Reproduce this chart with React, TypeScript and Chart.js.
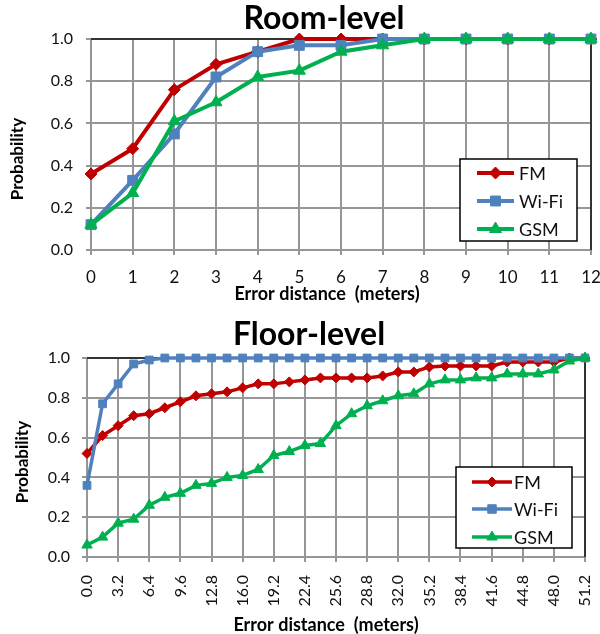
import React, { useEffect, useRef } from 'react';
import { Chart, registerables } from 'chart.js';

Chart.register(...registerables);

// ---------- data ----------
const seriesNames = ['FM', 'Wi-Fi', 'GSM'];
const seriesColors = ['#C00000', '#4F81BD', '#00B050'];
const seriesMarkers = ['rectRot', 'rect', 'triangle'];

const roomTitle = 'Room-level';
const floorTitle = 'Floor-level';
const xAxisTitle = 'Error distance  (meters)';
const yAxisTitle = 'Probability';

const roomX = [0, 1, 2, 3, 4, 5, 6, 7, 8, 9, 10, 11, 12];
const roomTickLabels = ['0', '1', '2', '3', '4', '5', '6', '7', '8', '9', '10', '11', '12'];
const roomFM = [0.36, 0.48, 0.76, 0.88, 0.94, 1.0, 1.0, 1.0, 1.0, 1.0, 1.0, 1.0, 1.0];
const roomWiFi = [0.12, 0.33, 0.55, 0.82, 0.94, 0.97, 0.97, 1.0, 1.0, 1.0, 1.0, 1.0, 1.0];
const roomGSM = [0.12, 0.27, 0.61, 0.70, 0.82, 0.85, 0.94, 0.97, 1.0, 1.0, 1.0, 1.0, 1.0];

const floorX = [
  0, 1.6, 3.2, 4.8, 6.4, 8.0, 9.6, 11.2, 12.8, 14.4, 16.0, 17.6, 19.2, 20.8, 22.4, 24.0, 25.6,
  27.2, 28.8, 30.4, 32.0, 33.6, 35.2, 36.8, 38.4, 40.0, 41.6, 43.2, 44.8, 46.4, 48.0, 49.6, 51.2,
];
const floorTicks = [0, 3.2, 6.4, 9.6, 12.8, 16.0, 19.2, 22.4, 25.6, 28.8, 32.0, 35.2, 38.4, 41.6, 44.8, 48.0, 51.2];
const floorTickLabels = ['0.0', '3.2', '6.4', '9.6', '12.8', '16.0', '19.2', '22.4', '25.6', '28.8', '32.0', '35.2', '38.4', '41.6', '44.8', '48.0', '51.2'];
const floorFM = [
  0.52, 0.61, 0.66, 0.71, 0.72, 0.75, 0.78, 0.81, 0.82, 0.83, 0.85, 0.87, 0.87, 0.88, 0.89, 0.90, 0.90,
  0.90, 0.90, 0.91, 0.93, 0.93, 0.955, 0.96, 0.96, 0.96, 0.96, 0.98, 0.98, 0.98, 0.98, 1.0, 1.0,
];
const floorWiFi = [
  0.36, 0.77, 0.87, 0.97, 0.99, 1.0, 1.0, 1.0, 1.0, 1.0, 1.0, 1.0, 1.0, 1.0, 1.0, 1.0, 1.0,
  1.0, 1.0, 1.0, 1.0, 1.0, 1.0, 1.0, 1.0, 1.0, 1.0, 1.0, 1.0, 1.0, 1.0, 1.0, 1.0,
];
const floorGSM = [
  0.06, 0.10, 0.17, 0.19, 0.26, 0.30, 0.32, 0.36, 0.37, 0.40, 0.41, 0.44, 0.51, 0.53, 0.56, 0.57, 0.66,
  0.72, 0.76, 0.785, 0.81, 0.82, 0.87, 0.89, 0.89, 0.90, 0.90, 0.92, 0.92, 0.92, 0.94, 0.985, 1.0,
];

const yTicks = [0, 0.2, 0.4, 0.6, 0.8, 1.0];
const yTickLabels = ['0.0', '0.2', '0.4', '0.6', '0.8', '1.0'];

// ---------- styling ----------
const FONT = 'Lato, "Open Sans", sans-serif';
const GRID = '#969696';
const FRAME = '#333333';

type Spec = {
  width: number;
  height: number;
  top: number;
  xValues: number[];
  series: number[][];
  xTicks: number[];
  xTickLabels: string[];
  xMax: number;
  rotation: number;
  title: string;
  titlePos: [number, number];
  xTitlePos: [number, number];
  yTitlePos: [number, number];
  area: { left: number; right: number; top: number; bottom: number };
  legend: { box: [number, number, number, number]; rows: number[]; line: [number, number]; textX: number; font: number; marker: number[] };
  lineWidth: number;
  radii: number[];
  xTickFont: number;
  yTickFont: number;
  xPad: number;
  yPad: number;
};

function drawMarker(ctx: CanvasRenderingContext2D, style: string, x: number, y: number, r: number) {
  ctx.beginPath();
  if (style === 'rectRot') {
    ctx.moveTo(x - r, y);
    ctx.lineTo(x, y - r);
    ctx.lineTo(x + r, y);
    ctx.lineTo(x, y + r);
  } else if (style === 'rect') {
    const s = r * Math.SQRT1_2;
    ctx.rect(x - s, y - s, 2 * s, 2 * s);
  } else {
    let a = 0;
    ctx.moveTo(x + Math.sin(a) * r, y - Math.cos(a) * r);
    a += (2 * Math.PI) / 3;
    ctx.lineTo(x + Math.sin(a) * r, y - Math.cos(a) * r);
    a += (2 * Math.PI) / 3;
    ctx.lineTo(x + Math.sin(a) * r, y - Math.cos(a) * r);
  }
  ctx.closePath();
  ctx.fill();
  ctx.stroke();
}

function makeConfig(spec: Spec): any {
  const datasets = spec.series.map((vals, k) => ({
    label: seriesNames[k],
    data: spec.xValues.map((x, i) => ({ x, y: vals[i] })),
    borderColor: seriesColors[k],
    backgroundColor: seriesColors[k],
    pointBackgroundColor: seriesColors[k],
    pointBorderColor: seriesColors[k],
    pointBorderWidth: 1,
    pointStyle: seriesMarkers[k],
    pointRadius: spec.radii[k],
    borderWidth: spec.lineWidth,
    tension: 0,
    clip: false,
    order: 3 - k,
  }));

  const framePlugin = {
    id: 'frame',
    beforeDatasetsDraw(chart: any) {
      const { ctx, chartArea: a } = chart;
      ctx.save();
      ctx.strokeStyle = FRAME;
      ctx.lineWidth = 2;
      ctx.beginPath();
      ctx.moveTo(a.left, a.top);
      ctx.lineTo(a.right, a.top);
      ctx.lineTo(a.right, a.bottom);
      ctx.stroke();
      ctx.restore();
    },
  };

  const textPlugin = {
    id: 'texts',
    afterDraw(chart: any) {
      const ctx: CanvasRenderingContext2D = chart.ctx;
      ctx.save();
      ctx.fillStyle = '#000';
      // chart title
      ctx.font = `bold 32px ${FONT}`;
      ctx.textAlign = 'center';
      ctx.textBaseline = 'alphabetic';
      ctx.fillText(spec.title, spec.titlePos[0], spec.titlePos[1]);
      // x-axis title
      ctx.font = `bold 18px ${FONT}`;
      ctx.textBaseline = 'middle';
      ctx.fillText(xAxisTitle, spec.xTitlePos[0], spec.xTitlePos[1]);
      // y-axis title
      ctx.font = `bold 17px ${FONT}`;
      ctx.save();
      ctx.translate(spec.yTitlePos[0], spec.yTitlePos[1]);
      ctx.rotate(-Math.PI / 2);
      ctx.fillText(yAxisTitle, 0, 0);
      ctx.restore();

      // legend
      const L = spec.legend;
      const [x0, y0, x1, y1] = L.box;
      ctx.fillStyle = '#fff';
      ctx.fillRect(x0, y0, x1 - x0, y1 - y0);
      ctx.strokeStyle = '#000';
      ctx.lineWidth = 1.5;
      ctx.strokeRect(x0, y0, x1 - x0, y1 - y0);
      seriesNames.forEach((name, k) => {
        const y = L.rows[k];
        ctx.strokeStyle = seriesColors[k];
        ctx.fillStyle = seriesColors[k];
        ctx.lineWidth = spec.lineWidth;
        ctx.beginPath();
        ctx.moveTo(L.line[0], y);
        ctx.lineTo(L.line[1], y);
        ctx.stroke();
        ctx.lineWidth = 1;
        drawMarker(ctx, seriesMarkers[k], (L.line[0] + L.line[1]) / 2, y, L.marker[k]);
        ctx.fillStyle = '#111';
        ctx.font = `${L.font}px ${FONT}`;
        ctx.textAlign = 'left';
        ctx.textBaseline = 'middle';
        ctx.fillText(name, L.textX, y + 1);
      });
      ctx.restore();
    },
  };

  return {
    type: 'line',
    data: { datasets },
    plugins: [framePlugin, textPlugin],
    options: {
      animation: false,
      responsive: false,
      devicePixelRatio: 1,
      events: [],
      layout: {
        padding: {
          left: 0,
          top: spec.area.top,
          right: spec.width - spec.area.right,
          bottom: 0,
        },
      },
      plugins: {
        legend: { display: false },
        title: { display: false },
        tooltip: { enabled: false },
      },
      scales: {
        x: {
          type: 'linear',
          min: 0,
          max: spec.xMax,
          afterBuildTicks: (s: any) => {
            s.ticks = spec.xTicks.map((v) => ({ value: v }));
          },
          afterFit: (s: any) => {
            s.height = spec.height - spec.area.bottom;
            s.paddingLeft = 0;
            s.paddingRight = 0;
          },
          grid: { color: GRID, lineWidth: 2, tickLength: 5, drawTicks: true, tickColor: GRID, tickWidth: 2 },
          border: { color: GRID, width: 2 },
          ticks: {
            autoSkip: false,
            maxRotation: spec.rotation,
            minRotation: spec.rotation,
            padding: spec.xPad,
            color: '#111',
            font: { family: FONT, size: spec.xTickFont },
            callback: (_v: any, i: number) => spec.xTickLabels[i],
          },
        },
        y: {
          type: 'linear',
          min: 0,
          max: 1,
          afterBuildTicks: (s: any) => {
            s.ticks = yTicks.map((v) => ({ value: v }));
          },
          afterFit: (s: any) => {
            s.width = spec.area.left;
            s.paddingTop = 0;
            s.paddingBottom = 0;
          },
          grid: { color: GRID, lineWidth: 2, tickLength: 5, drawTicks: true, tickColor: GRID, tickWidth: 2 },
          border: { color: GRID, width: 2 },
          ticks: {
            padding: spec.yPad,
            color: '#111',
            font: { family: FONT, size: spec.yTickFont },
            callback: (_v: any, i: number) => yTickLabels[i],
          },
        },
      },
    },
  };
}

const roomSpec: Spec = {
  width: 600,
  height: 305,
  top: 0,
  xValues: roomX,
  series: [roomFM, roomWiFi, roomGSM],
  xTicks: roomX,
  xTickLabels: roomTickLabels,
  xMax: 12,
  rotation: 0,
  title: roomTitle,
  titlePos: [324, 29],
  xTitlePos: [327, 294],
  yTitlePos: [18, 159],
  area: { left: 91, right: 591, top: 39, bottom: 250 },
  legend: { box: [460, 159, 577, 241], rows: [173, 201, 229], line: [477, 514], textX: 519, font: 18, marker: [6, 7, 7] },
  lineWidth: 4,
  radii: [6, 7, 7],
  xTickFont: 17,
  yTickFont: 16,
  xPad: 12,
  yPad: 13,
};

const floorSpec: Spec = {
  width: 600,
  height: 329,
  top: 305,
  xValues: floorX,
  series: [floorFM, floorWiFi, floorGSM],
  xTicks: floorTicks,
  xTickLabels: floorTickLabels,
  xMax: 51.2,
  rotation: 90,
  title: floorTitle,
  titlePos: [309, 40],
  xTitlePos: [326, 320],
  yTitlePos: [23, 157],
  area: { left: 87, right: 585, top: 53, bottom: 252 },
  legend: { box: [456, 162, 572, 243], rows: [177, 204, 232], line: [472, 512], textX: 514, font: 18, marker: [5, 6, 6] },
  lineWidth: 3.5,
  radii: [5, 5.5, 6],
  xTickFont: 16,
  yTickFont: 16,
  xPad: 13,
  yPad: 12,
};

function Panel({ spec }: { spec: Spec }) {
  const ref = useRef<HTMLCanvasElement | null>(null);
  useEffect(() => {
    if (!ref.current) return;
    const chart = new Chart(ref.current, makeConfig(spec));
    return () => chart.destroy();
  }, [spec]);
  return (
    <canvas
      ref={ref}
      width={spec.width}
      height={spec.height}
      style={{ position: 'absolute', left: 0, top: spec.top, width: spec.width, height: spec.height }}
    />
  );
}

export default function App() {
  return (
    <div style={{ position: 'absolute', left: 0, top: 0, width: 600, height: 634, background: '#fff' }}>
      <Panel spec={roomSpec} />
      <Panel spec={floorSpec} />
    </div>
  );
}
